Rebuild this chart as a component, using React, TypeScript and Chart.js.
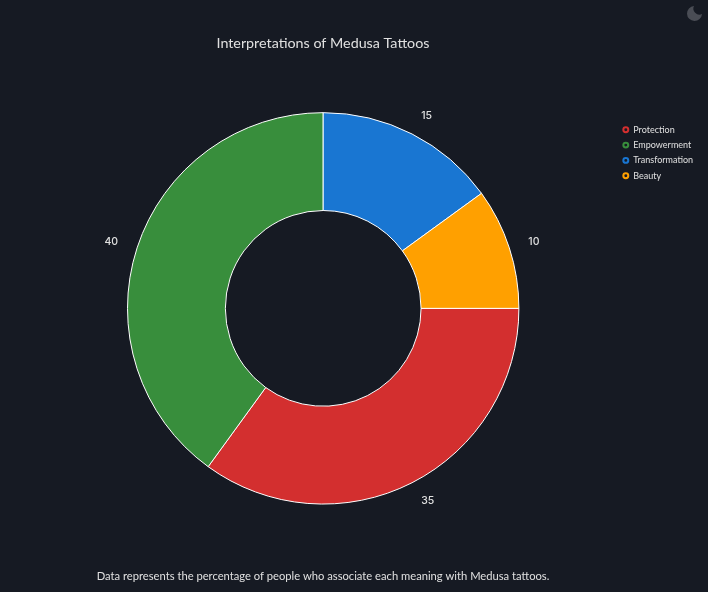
import React, { useEffect, useRef } from "react";
import { Chart, registerables } from "chart.js";

Chart.register(...registerables);

const categories = ["Protection", "Empowerment", "Transformation", "Beauty"];
const values = [35, 40, 15, 10];
const colors = ["#d32f2f", "#388e3c", "#1976d2", "#ffa000"];
const titleText = "Interpretations of Medusa Tattoos";
const footnote = "Data represents the percentage of people who associate each meaning with Medusa tattoos.";
const BG = "#161a23";
const FONT = "Lato, sans-serif";
const LABEL_FONT = "Inter, sans-serif";

const sliceLabels = {
  id: "sliceLabels",
  afterDatasetsDraw(chart: any) {
    const ctx = chart.ctx;
    const meta = chart.getDatasetMeta(0);
    ctx.save();
    ctx.font = `500 10.5px ${LABEL_FONT}`;
    ctx.fillStyle = "#e0e0e0";
    ctx.textBaseline = "middle";
    meta.data.forEach((arc: any, i: number) => {
      const mid = (arc.startAngle + arc.endAngle) / 2;
      const r = arc.outerRadius + 20;
      const x = arc.x + Math.cos(mid) * r;
      const y = arc.y + Math.sin(mid) * r;
      ctx.textAlign = Math.cos(mid) >= 0 ? "left" : "right";
      ctx.fillText(String(values[i]), x, y);
    });
    ctx.restore();
  },
};

// Title and footnote are centred over the doughnut; the legend sits at its own spot on the right.
const placeBoxes = {
  id: "placeBoxes",
  afterLayout(chart: any) {
    chart.boxes.forEach((box: any) => {
      if (box === chart.legend) {
        const w = box.width;
        const h = box.height;
        box.left = 616.5;
        box.right = 616.5 + w;
        box.top = 119;
        box.bottom = 119 + h;
      } else if (box.options && box.options.text) {
        box.left = 0;
        box.right = 646;
      }
    });
  },
};

export default function App() {
  const ref = useRef<HTMLCanvasElement>(null);
  useEffect(() => {
    document.body.style.margin = "0";
    document.body.style.background = BG;
    const chart = new Chart(ref.current!, {
      type: "doughnut",
      data: {
        labels: categories,
        datasets: [
          {
            data: values,
            backgroundColor: colors,
            borderColor: "#ffffff",
            borderWidth: 1,
          },
        ],
      },
      plugins: [sliceLabels, placeBoxes],
      options: {
        animation: false,
        responsive: false,
        cutout: "50%",
        rotation: 90,
        layout: { padding: { left: 33, right: 8, top: 0, bottom: 0 } },
        plugins: {
          tooltip: { enabled: false },
          title: {
            display: true,
            text: titleText,
            color: "#e0e0e0",
            font: { family: FONT, size: 14.3, weight: "normal" },
            padding: { top: 35, bottom: 60 },
          },
          subtitle: {
            display: true,
            position: "bottom",
            text: footnote,
            color: "#e0e0e0",
            font: { family: FONT, size: 11.2, weight: "normal" },
            padding: { top: 65, bottom: 9 },
          },
          legend: {
            position: "right",
            align: "start",
            fullSize: false,
            labels: {
              color: "#e0e0e0",
              font: { family: FONT, size: 9 },
              boxWidth: 6,
              boxHeight: 3.5,
              padding: 6.3,
              usePointStyle: true,
              pointStyle: "circle",
              generateLabels: () =>
                categories.map((text, i) => ({
                  text,
                  index: i,
                  fontColor: "#e0e0e0",
                  fillStyle: BG,
                  strokeStyle: colors[i],
                  lineWidth: 2,
                  pointStyle: "circle",
                })),
            },
          },
        },
      },
    } as any);
    return () => chart.destroy();
  }, []);
  return (
    <div style={{ position: "relative", width: 708, height: 592, background: BG, overflow: "hidden" }}>
      <canvas ref={ref} width={708} height={592} style={{ display: "block" }} />
      <svg
        width="18"
        height="18"
        viewBox="0 0 18 18"
        style={{ position: "absolute", left: 686, top: 5 }}
      >
        <path d="M8 1 A7.5 7.5 0 1 0 16 9 A6 6 0 0 1 8 1 Z" fill="#4a4d55" />
      </svg>
    </div>
  );
}
